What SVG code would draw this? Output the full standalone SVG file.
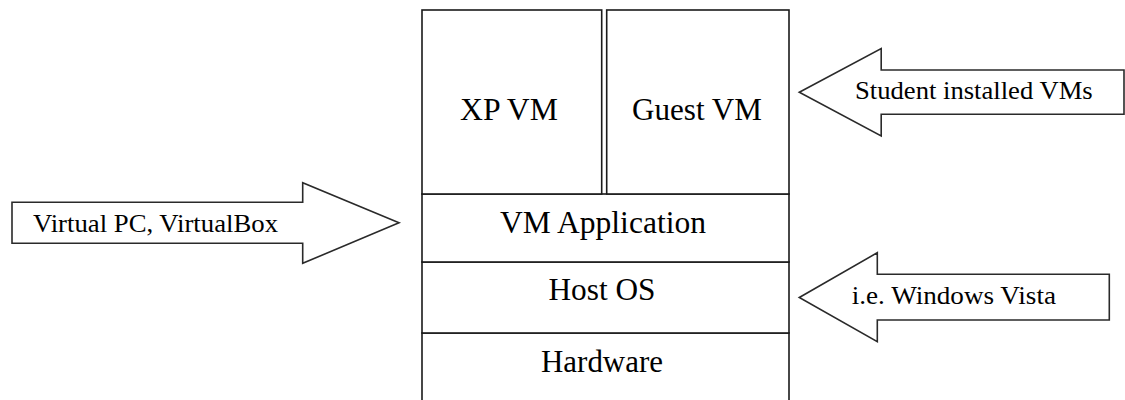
<svg xmlns="http://www.w3.org/2000/svg" width="1125" height="400" viewBox="0 0 1125 400">
<style>
.box{fill:#fff;stroke:#1a1a1a;stroke-width:1.6}
.arrow{fill:#fff;stroke:#2a2a2a;stroke-width:1.6;stroke-linejoin:miter}
.big{font-family:"Liberation Serif","Times New Roman",serif;font-size:31px;fill:#000;text-anchor:middle}
.small{font-family:"Liberation Serif","Times New Roman",serif;font-size:26px;fill:#000}
</style>
<rect width="1125" height="400" fill="#fff"/>
<g id="hardware">
<rect class="box" x="422" y="333" width="367" height="70"/>
<text class="big" x="602" y="372" textLength="122" lengthAdjust="spacingAndGlyphs">Hardware</text>
</g>
<g id="host-os">
<rect class="box" x="422" y="262" width="367" height="71"/>
<text class="big" x="602" y="300" textLength="107" lengthAdjust="spacingAndGlyphs">Host OS</text>
</g>
<g id="vm-application">
<rect class="box" x="422" y="194" width="367" height="68"/>
<text class="big" x="603" y="233" textLength="206" lengthAdjust="spacingAndGlyphs">VM Application</text>
</g>
<g id="xp-vm">
<rect class="box" x="422" y="10" width="179.7" height="184"/>
<text class="big" x="509" y="120" textLength="98" lengthAdjust="spacingAndGlyphs">XP VM</text>
</g>
<g id="guest-vm">
<rect class="box" x="606.7" y="10" width="182.3" height="184"/>
<text class="big" x="697" y="120" textLength="130" lengthAdjust="spacingAndGlyphs">Guest VM</text>
</g>
<g id="connectors">
<g id="arrow-virtualpc">
<polygon class="arrow" points="12,202.3 302.7,202.3 302.7,182.7 399,222.8 302.7,263.3 302.7,243.3 12,243.3"/>
<text class="small" x="33" y="231.7" textLength="245" lengthAdjust="spacingAndGlyphs">Virtual PC, VirtualBox</text>
</g>
<g id="arrow-student">
<polygon class="arrow" points="799.3,92.2 881.2,48.5 881.2,70 1124,70 1124,114.3 881.2,114.3 881.2,136"/>
<text class="small" x="855" y="99" textLength="237.7" lengthAdjust="spacingAndGlyphs">Student installed VMs</text>
</g>
<g id="arrow-vista">
<polygon class="arrow" points="799.3,297.5 877.3,252.7 877.3,274.3 1109.3,274.3 1109.3,320 877.3,320 877.3,341.7"/>
<text class="small" x="851.7" y="304" textLength="204.3" lengthAdjust="spacingAndGlyphs">i.e. Windows Vista</text>
</g>
</g>
</svg>
